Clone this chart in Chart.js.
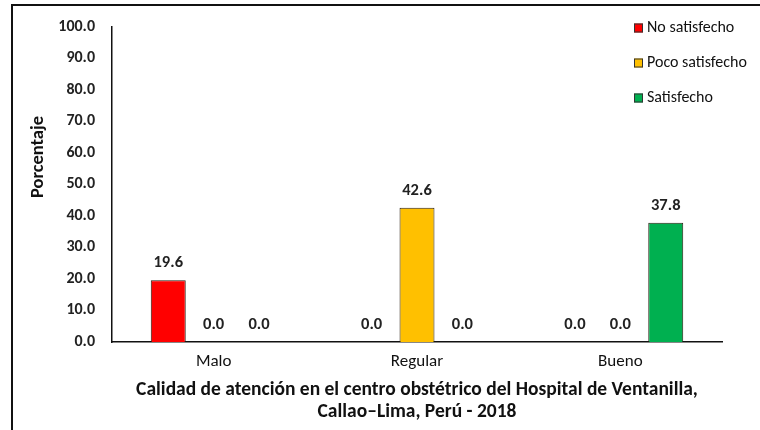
<!DOCTYPE html>
<html lang="es">
<head>
<meta charset="utf-8">
<title>Calidad de atención</title>
<script src="https://cdn.jsdelivr.net/npm/chart.js@4/dist/chart.umd.min.js"></script>
<style>
  html, body { margin: 0; padding: 0; background: #fff; overflow: hidden; }
  #wrap { position: relative; width: 760px; height: 430px; }
  #frame {
    position: absolute; left: 11px; top: 4px; width: 800px; height: 500px;
    border-top: 2px solid #111; border-left: 2px solid #111; pointer-events: none;
  }
  canvas { display: block; }
</style>
</head>
<body>
<div id="wrap">
  <canvas id="chart" width="760" height="430"></canvas>
  <div id="frame"></div>
</div>
<script>
const categories = ['Malo', 'Regular', 'Bueno'];
const seriesNames = ['No satisfecho', 'Poco satisfecho', 'Satisfecho'];
const noSatisfecho = [19.6, 0.0, 0.0];
const pocoSatisfecho = [0.0, 42.6, 0.0];
const satisfecho = [0.0, 0.0, 37.8];
const yTicks = [0, 10, 20, 30, 40, 50, 60, 70, 80, 90, 100];
const xTitle = ['Calidad de atención en el centro obstétrico del Hospital de Ventanilla,', 'Callao–Lima, Perú - 2018'];
const yTitle = 'Porcentaje';

const FONT = 'Carlito, Lato, "Liberation Sans", sans-serif';
const colors = ['#FF0000', '#FFC000', '#00B050'];

// Value labels above each bar
const valueLabels = {
  id: 'valueLabels',
  afterDatasetsDraw(chart) {
    const ctx = chart.ctx;
    ctx.save();
    ctx.font = 'bold 16.5px ' + FONT;
    ctx.fillStyle = '#222';
    ctx.textAlign = 'center';
    ctx.textBaseline = 'middle';
    chart.data.datasets.forEach((ds, i) => {
      chart.getDatasetMeta(i).data.forEach((bar, j) => {
        ctx.fillText(ds.data[j].toFixed(1), bar.x, bar.y - 17);
      });
    });
    ctx.restore();
  }
};

// Vertical legend in the upper right and the rotated y-axis title
const sideText = {
  id: 'sideText',
  afterDraw(chart) {
    const ctx = chart.ctx;
    ctx.save();
    ctx.font = '16px ' + FONT;
    ctx.textBaseline = 'middle';
    ctx.textAlign = 'left';
    chart.data.datasets.forEach((ds, i) => {
      const y = 28 + i * 35;
      ctx.fillStyle = ds.backgroundColor;
      ctx.fillRect(634, y - 4.5, 9, 9);
      ctx.strokeStyle = '#333';
      ctx.lineWidth = 1;
      ctx.strokeRect(634.5, y - 4, 8, 8);
      ctx.fillStyle = '#111';
      ctx.fillText(ds.label, 647, y);
    });
    ctx.translate(38, 157);
    ctx.rotate(-Math.PI / 2);
    ctx.font = 'bold 18.5px ' + FONT;
    ctx.textAlign = 'center';
    ctx.textBaseline = 'middle';
    ctx.fillStyle = '#111';
    ctx.fillText(yTitle, 0, 0);
    ctx.restore();
  }
};

const makeSet = (label, data, color) => ({
  label, data,
  backgroundColor: color,
  borderColor: '#2a1e12',
  borderWidth: 1,
  categoryPercentage: 0.67,
  barPercentage: 0.77
});

new Chart(document.getElementById('chart'), {
  type: 'bar',
  data: {
    labels: categories,
    datasets: [
      makeSet(seriesNames[0], noSatisfecho, colors[0]),
      makeSet(seriesNames[1], pocoSatisfecho, colors[1]),
      makeSet(seriesNames[2], satisfecho, colors[2])
    ]
  },
  options: {
    responsive: false,
    animation: false,
    layout: { padding: { left: 0, right: 38, top: 22, bottom: 0 } },
    plugins: {
      legend: { display: false },
      tooltip: { enabled: false }
    },
    scales: {
      x: {
        grid: { display: false, drawTicks: false },
        border: { display: true, color: '#111', width: 1.5 },
        ticks: { color: '#111', font: { family: FONT, size: 17 }, padding: 10 },
        title: {
          display: true,
          text: xTitle,
          color: '#111',
          font: { family: FONT, size: 19.5, weight: 'bold', lineHeight: 1.13 },
          padding: { top: 2, bottom: 7 }
        },
        afterFit(scale) { scale.height = 88; }
      },
      y: {
        min: 0,
        max: 100,
        grid: { display: false, drawTicks: false },
        border: { display: true, color: '#111', width: 1.5 },
        afterBuildTicks(scale) { scale.ticks = yTicks.map(v => ({ value: v })); },
        ticks: {
          color: '#222',
          padding: 17,
          font: { family: FONT, size: 16, weight: 'bold' },
          callback: v => Number(v).toFixed(1)
        },
        afterFit(scale) { scale.width = 112; }
      }
    }
  },
  plugins: [valueLabels, sideText]
});
</script>
</body>
</html>
